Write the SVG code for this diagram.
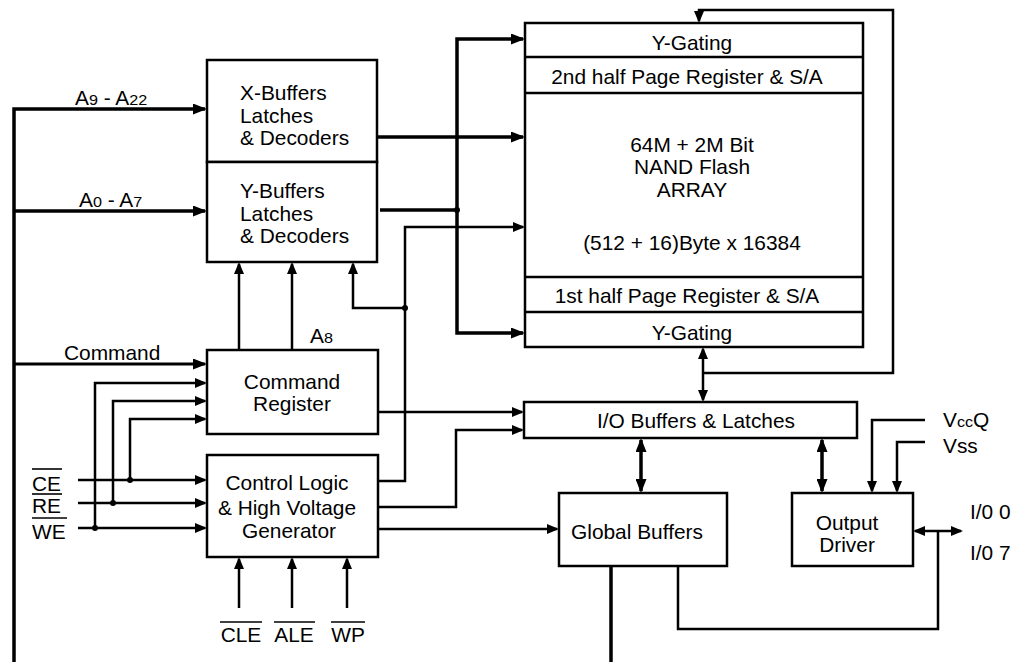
<svg xmlns="http://www.w3.org/2000/svg" width="1034" height="662" viewBox="0 0 1034 662">
<style>
text{font-family:"Liberation Sans",Arial,sans-serif;font-size:20px;fill:#000}
.c{text-anchor:middle;transform-box:fill-box;transform-origin:center;transform:scaleX(1.045)}
.l{transform-box:fill-box;transform-origin:left center;transform:scaleX(1.045)}
.s{font-size:15.5px}
.box{fill:#fff;stroke:#000;stroke-width:2.5}
.thin{fill:none;stroke:#000;stroke-width:2.5}
.thick{fill:none;stroke:#000;stroke-width:3.5}
.ol{stroke:#000;stroke-width:1.6}
</style>
<defs>
<marker id="ah" markerUnits="userSpaceOnUse" markerWidth="12" markerHeight="10" refX="10" refY="5" orient="auto-start-reverse"><path d="M0,0 L12,5 L0,10 z" fill="#000"/></marker>
<marker id="aH" markerUnits="userSpaceOnUse" markerWidth="14" markerHeight="11" refX="12" refY="5.5" orient="auto-start-reverse"><path d="M0,0 L14,5.5 L0,11 z" fill="#000"/></marker>
</defs>
<rect width="1034" height="662" fill="#fff"/>

<g id="connectors">
<path class="thick" d="M14,662 V109 H205" marker-end="url(#aH)"/>
<path class="thick" d="M14,211 H205" marker-end="url(#aH)"/>
<path class="thick" style="stroke-width:3" d="M14,364 H205" marker-end="url(#aH)"/>
<path class="thick" d="M377,137 H523" marker-end="url(#aH)"/>
<path class="thick" d="M380,210 H457"/>
<path class="thick" d="M523,39 H457 V333 H523" marker-start="url(#aH)" marker-end="url(#aH)"/>
<path class="thin" d="M95,528 V383 H205" marker-end="url(#ah)"/>
<path class="thin" d="M113,503 V401 H205" marker-end="url(#ah)"/>
<path class="thin" d="M130,480 V419 H205" marker-end="url(#ah)"/>
<path class="thin" d="M78,480 H205" marker-end="url(#ah)"/>
<path class="thin" d="M78,503 H205" marker-end="url(#ah)"/>
<path class="thin" d="M78,528 H205" marker-end="url(#ah)"/>
<path class="thin" d="M239,608 V559" marker-end="url(#ah)"/>
<path class="thin" d="M292,608 V559" marker-end="url(#ah)"/>
<path class="thin" d="M347,608 V559" marker-end="url(#ah)"/>
<path class="thin" d="M239,350 V264" marker-end="url(#ah)"/>
<path class="thin" d="M292,350 V264" marker-end="url(#ah)"/>
<path class="thin" d="M405,308 H353 V264" marker-end="url(#ah)"/>
<path class="thin" d="M379,481 H405 V227 H523" marker-end="url(#ah)"/>
<path class="thin" d="M379,507 H456 V430 H522" marker-end="url(#ah)"/>
<path class="thin" d="M379,412 H522" marker-end="url(#ah)"/>
<path class="thin" d="M379,529 H557" marker-end="url(#ah)"/>
<path class="thin" d="M703,349 V400" marker-start="url(#ah)" marker-end="url(#ah)"/>
<path class="thin" d="M703,373 H893 V10 H699 V21" marker-end="url(#ah)"/>
<path class="thick" d="M641,440 V491" marker-start="url(#aH)" marker-end="url(#aH)"/>
<path class="thick" d="M822,440 V491" marker-start="url(#aH)" marker-end="url(#aH)"/>
<path class="thick" d="M611,566 V662"/>
<path class="thin" d="M925,420 H872 V491" marker-end="url(#ah)"/>
<path class="thin" d="M925,442 H897 V491" marker-end="url(#ah)"/>
<path class="thin" d="M915,531 H961" marker-start="url(#ah)" marker-end="url(#ah)"/>
<path class="thin" d="M678,566 V629 H938 V531"/>
<circle cx="457" cy="210" r="3"/>
<circle cx="405" cy="308" r="3"/>
<circle cx="130" cy="480" r="3"/>
<circle cx="113" cy="503" r="3"/>
<circle cx="95" cy="528" r="3"/>
</g>

<g id="x-buffers">
<rect class="box" x="207" y="60" width="170" height="102"/>
<text class="l" x="240" y="100">X-Buffers</text>
<text class="l" x="240" y="123">Latches</text>
<text class="l" x="240" y="145">&amp; Decoders</text>
</g>
<g id="y-buffers">
<rect class="box" x="207" y="162" width="170" height="100"/>
<text class="l" x="240" y="198">Y-Buffers</text>
<text class="l" x="240" y="221">Latches</text>
<text class="l" x="240" y="243">&amp; Decoders</text>
</g>
<g id="command-register">
<rect class="box" x="207" y="350" width="171" height="84"/>
<text class="c" x="292" y="389">Command</text>
<text class="c" x="292" y="411">Register</text>
</g>
<g id="control-logic">
<rect class="box" x="207" y="455" width="171" height="102"/>
<text class="c" x="287" y="490">Control Logic</text>
<text class="c" x="287" y="515">&amp; High Voltage</text>
<text class="c" x="289" y="538">Generator</text>
</g>
<g id="array">
<rect class="box" x="525" y="23" width="338" height="324"/>
<line class="thin" x1="525" y1="57" x2="863" y2="57"/>
<line class="thin" x1="525" y1="93" x2="863" y2="93"/>
<line class="thin" x1="525" y1="277" x2="863" y2="277"/>
<line class="thin" x1="525" y1="312" x2="863" y2="312"/>
<text class="c" x="692" y="50">Y-Gating</text>
<text class="c" x="687" y="84">2nd half Page Register &amp; S/A</text>
<text class="c" x="692" y="152">64M + 2M Bit</text>
<text class="c" x="692" y="174">NAND Flash</text>
<text class="c" x="692" y="197">ARRAY</text>
<text class="c" x="692" y="250">(512 + 16)Byte x 16384</text>
<text class="c" x="687" y="303">1st half Page Register &amp; S/A</text>
<text class="c" x="692" y="340">Y-Gating</text>
</g>
<g id="io-buffers">
<rect class="box" x="524" y="402" width="333" height="36"/>
<text class="c" x="696" y="428">I/O Buffers &amp; Latches</text>
</g>
<g id="global-buffers">
<rect class="box" x="559" y="493" width="168" height="73"/>
<text class="c" x="637" y="539">Global Buffers</text>
</g>
<g id="output-driver">
<rect class="box" x="792" y="493" width="121" height="73"/>
<text class="c" x="847" y="530">Output</text>
<text class="c" x="847" y="552">Driver</text>
</g>

<g id="labels">
<text class="l" x="75" y="105">A<tspan class="s">9</tspan> - A<tspan class="s">22</tspan></text>
<text class="l" x="79" y="207">A<tspan class="s">0</tspan> - A<tspan class="s">7</tspan></text>
<text class="l" x="310" y="343">A<tspan class="s">8</tspan></text>
<text class="l" x="64" y="360">Command</text>
<text class="l" x="32" y="491">CE</text>
<text class="l" x="32" y="513">RE</text>
<text class="l" x="32" y="539">WE</text>
<line class="ol" x1="32" y1="469" x2="62" y2="469"/>
<line class="ol" x1="32" y1="494" x2="62" y2="494"/>
<line class="ol" x1="32" y1="518" x2="67" y2="518"/>
<text class="c" x="241" y="642">CLE</text>
<text class="c" x="294" y="642">ALE</text>
<text class="c" x="348" y="642">WP</text>
<line class="ol" x1="220" y1="622" x2="262" y2="622"/>
<line class="ol" x1="274" y1="622" x2="315" y2="622"/>
<line class="ol" x1="331" y1="622" x2="365" y2="622"/>
<text class="l" x="943" y="427">V<tspan class="s">cc</tspan>Q</text>
<text class="l" x="943" y="453">Vss</text>
<text class="l" x="970" y="519">I/0 0</text>
<text class="l" x="970" y="560">I/0 7</text>
</g>
</svg>
